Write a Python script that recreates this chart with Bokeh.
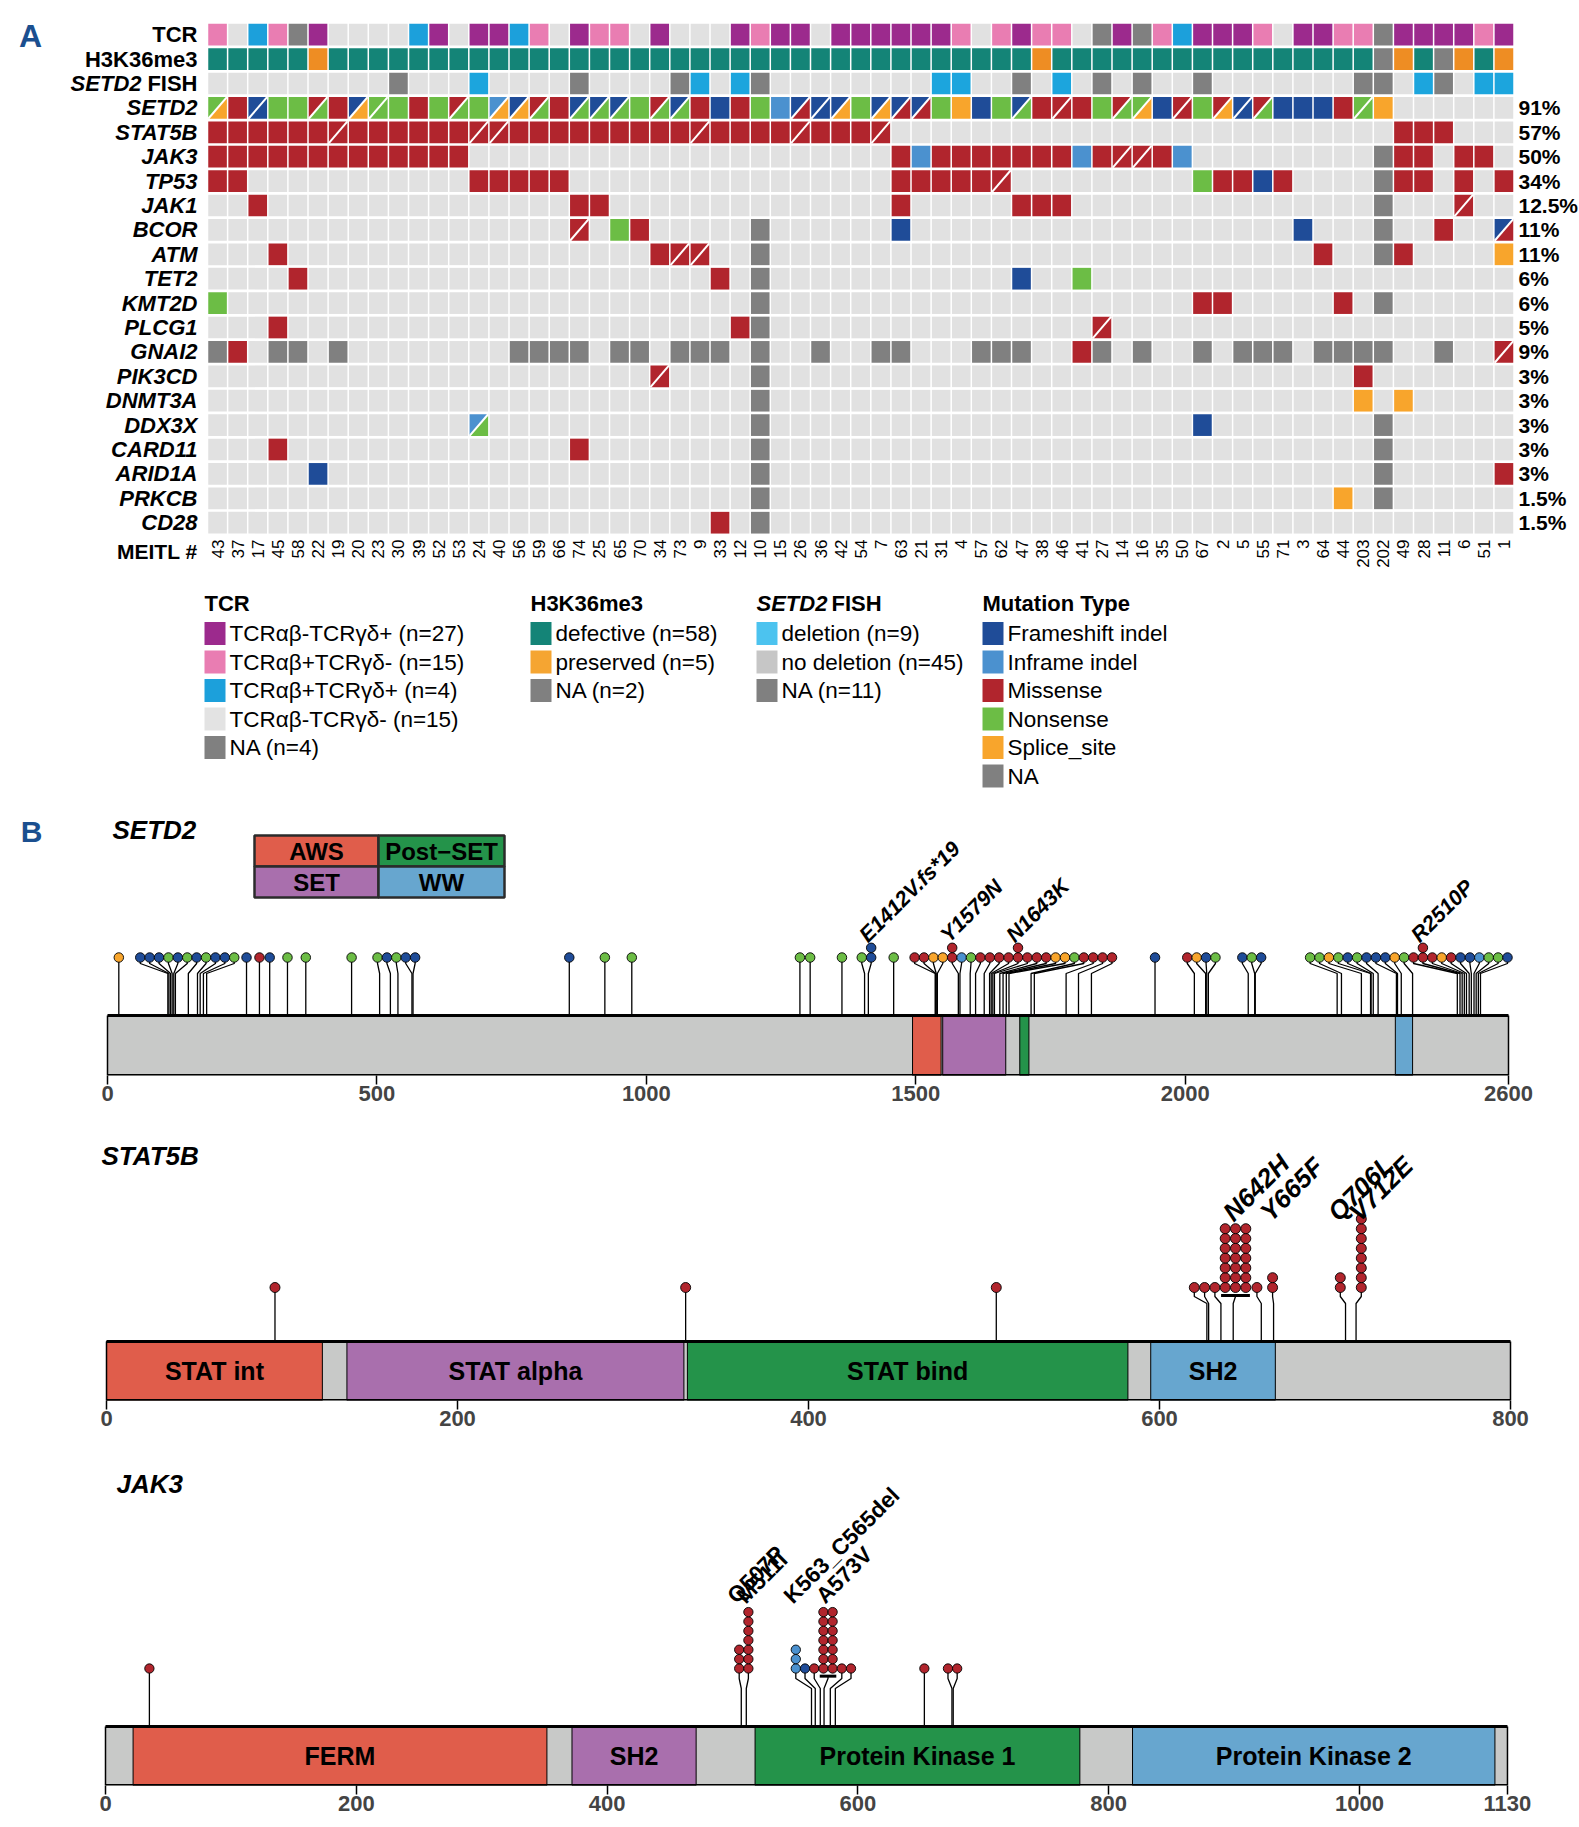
import math
from bokeh.plotting import figure
from bokeh.models import Range1d, FixedTicker
from bokeh.layouts import column
from bokeh.embed import file_html
from bokeh.resources import INLINE
from bokeh.core.properties import value

# ====================== DATA : panel A (oncoprint) ======================
MEITL = [43, 37, 17, 45, 58, 22, 19, 20, 23, 30, 39, 52, 53, 24, 40, 56, 59, 66, 74, 25,
         65, 70, 34, 73, 9, 33, 12, 10, 15, 26, 36, 42, 54, 7, 63, 21, 31, 4, 57, 62,
         47, 38, 46, 41, 27, 14, 16, 35, 50, 67, 2, 5, 55, 71, 3, 64, 44, 203, 202, 49,
         28, 11, 6, 51, 1]

# TCR: P=ab-gd+, K=ab+gd-, B=ab+gd+, L=ab-gd-, X=NA
TCR = ("K L B K X P L L L L B P L P P B K L P K K L P L L L P K P P "
       "L P P P P P P K L K P K K L X P X K B P P P K L P P K K X P P P P K P").split()
# H3K36me3: D=defective, O=preserved, X=NA
H3K36 = ("D D D D D O D D D D D D D D D D D D D D D D D D D D D D D D "
         "D D D D D D D D D D D O D D D D D D D D D D D D D D D D X O D X O D O").split()
# SETD2 FISH: C=deletion, N=no deletion, X=NA
FISH = ("N N N N N N N N N X "
        "N N N C N N N N X N "
        "N N N X C N C X N N "
        "N N N N N N C C N N "
        "X N C N X N X N N X "
        "N N N N N N N X X N "
        "C X N C C").split()

# mutations: F=frameshift, I=inframe, M=missense, N=nonsense, S=splice, X=NA, .=none
GENES = ["SETD2", "STAT5B", "JAK3", "TP53", "JAK1", "BCOR", "ATM", "TET2", "KMT2D",
         "PLCG1", "GNAI2", "PIK3CD", "DNMT3A", "DDX3X", "CARD11", "ARID1A", "PRKCB", "CD28"]
PCT = ["91%", "57%", "50%", "34%", "12.5%", "11%", "11%", "6%", "6%", "5%", "9%",
       "3%", "3%", "3%", "3%", "3%", "1.5%", "1.5%"]
GENE_ROWS = {
    "SETD2": ("NS M FF N N MN M FS NN N "
              "M N MN N IS FS MN M FN FN "
              "FN N MN FN M F M N I FM "
              "FF FS N FS FM FM N S F N "
              "FN M MM M N MN NS F MM N "
              "MS FF MN F F F M NN S . "
              ". . . . ."),
    "STAT5B": ("M M M M M M MM M M M "
               "M M M MM MM M M M M M "
               "M M M M MM M M M M MM "
               "M M M MM . . . . . . "
               ". . . . . . . . . . "
               ". . . . . . . . . M "
               "M M . . ."),
    "JAK3": ("M M M M M M M M M M "
             "M M M . . . . . . . "
             ". . . . . . . . . . "
             ". . . . M I M M M M "
             "M M M I M MM MM M I . "
             ". . . . . . . . X M "
             "M . M M ."),
    "TP53": ("M M . . . . . . . . "
             ". . . M M M M M . . "
             ". . . . . . . . . . "
             ". . . . M M M M M MM "
             ". . . . . . . . . N "
             "M M F M . . . . X M "
             "M . M . M"),
    "JAK1": (". . M . . . . . . . "
             ". . . . . . . . M M "
             ". . . . . . . . . . "
             ". . . . M . . . . . "
             "M M M . . . . . . . "
             ". . . . . . . . X . "
             ". . MM . ."),
    "BCOR": (". . . . . . . . . . "
             ". . . . . . . . MM . "
             "N M . . . . . X . . "
             ". . . . F . . . . . "
             ". . . . . . . . . . "
             ". . . . F . . . X . "
             ". M . . FM"),
    "ATM": (". . . M . . . . . . "
            ". . . . . . . . . . "
            ". . M MM MM . . X . . "
            ". . . . . . . . . . "
            ". . . . . . . . . . "
            ". . . . . M . . X M "
            ". . . . S"),
    "TET2": (". . . . M . . . . . "
             ". . . . . . . . . . "
             ". . . . . M . X . . "
             ". . . . . . . . . . "
             "F . . N . . . . . . "
             ". . . . . . . . . . "
             ". . . . ."),
    "KMT2D": ("N . . . . . . . . . "
              ". . . . . . . . . . "
              ". . . . . . . X . . "
              ". . . . . . . . . . "
              ". . . . . . . . . M "
              "M . . . . . M . X . "
              ". . . . ."),
    "PLCG1": (". . . M . . . . . . "
              ". . . . . . . . . . "
              ". . . . . . M X . . "
              ". . . . . . . . . . "
              ". . . . MM . . . . . "
              ". . . . . . . . . . "
              ". . . . ."),
    "GNAI2": ("X M . X X . X . . . "
              ". . . . . X X X X . "
              "X X . X X X . X . . "
              "X . . X X . . . X X "
              "X . . M X . X . . X "
              ". X X X . X X X X . "
              ". X . . MM"),
    "PIK3CD": (". . . . . . . . . . "
               ". . . . . . . . . . "
               ". . MM . . . . X . . "
               ". . . . . . . . . . "
               ". . . . . . . . . . "
               ". . . . . . . M . . "
               ". . . . ."),
    "DNMT3A": (". . . . . . . . . . "
               ". . . . . . . . . . "
               ". . . . . . . X . . "
               ". . . . . . . . . . "
               ". . . . . . . . . . "
               ". . . . . . . S . S "
               ". . . . ."),
    "DDX3X": (". . . . . . . . . . "
              ". . . IN . . . . . . "
              ". . . . . . . X . . "
              ". . . . . . . . . . "
              ". . . . . . . . . F "
              ". . . . . . . . X . "
              ". . . . ."),
    "CARD11": (". . . M . . . . . . "
               ". . . . . . . . M . "
               ". . . . . . . X . . "
               ". . . . . . . . . . "
               ". . . . . . . . . . "
               ". . . . . . . . X . "
               ". . . . ."),
    "ARID1A": (". . . . . F . . . . "
               ". . . . . . . . . . "
               ". . . . . . . X . . "
               ". . . . . . . . . . "
               ". . . . . . . . . . "
               ". . . . . . . . X . "
               ". . . . M"),
    "PRKCB": (". . . . . . . . . . "
              ". . . . . . . . . . "
              ". . . . . . . X . . "
              ". . . . . . . . . . "
              ". . . . . . . . . . "
              ". . . . . . S . X . "
              ". . . . ."),
    "CD28": (". . . . . . . . . . "
             ". . . . . . . . . . "
             ". . . . . M . X . . "
             ". . . . . . . . . . "
             ". . . . . . . . . . "
             ". . . . . . . . . . "
             ". . . . ."),
}

LEG_TCR = ["TCRαβ-TCRγδ+ (n=27)", "TCRαβ+TCRγδ- (n=15)", "TCRαβ+TCRγδ+ (n=4)",
           "TCRαβ-TCRγδ- (n=15)", "NA (n=4)"]
LEG_H3 = ["defective (n=58)", "preserved (n=5)", "NA (n=2)"]
LEG_FISH = ["deletion (n=9)", "no deletion (n=45)", "NA (n=11)"]
LEG_MUT = ["Frameshift indel", "Inframe indel", "Missense", "Nonsense", "Splice_site", "NA"]

# ====================== DATA : panel B (lollipops) ======================
SETD2_LEN = 2600
SETD2_TICKS = [0, 500, 1000, 1500, 2000, 2600]
SETD2_TICK_LABELS = ["0", "500", "1000", "1500", "2000", "2600"]
SETD2_DOM = ["AWS", "SET", "Post−SET", "WW"]
SETD2_DOM_START = [1494, 1550, 1693, 2390]
SETD2_DOM_END = [1547, 1667, 1710, 2422]
SETD2_POS = [21, 112, 114, 117, 120, 123, 126, 150, 167, 172, 178, 184, 258, 282, 301, 334, 368,
             453, 505, 525, 539, 565, 567, 857, 923, 973, 1285, 1304, 1363, 1405, 1412, 1459,
             1536, 1537, 1538, 1540, 1579, 1582, 1601, 1611, 1627, 1637, 1640, 1643, 1646, 1656,
             1662, 1668, 1673, 1714, 1720, 1779, 1802, 1826, 1944, 2017, 2038, 2040, 2043,
             2117, 2129, 2130, 2282, 2290, 2327, 2344, 2345, 2349, 2358, 2392, 2394, 2401, 2422,
             2505, 2510, 2514, 2518, 2522, 2527, 2531, 2536, 2540, 2544, 2548]
SETD2_TYPE = list("SFFFNFNFNFFNFMFNN" "NNFNFFFNN" "NNNNFN"
                  "MMSSMINMMMMMMMMSSNMMMM" "F" "MSFN" "FNF" "NN" "SNFNFFFSN"
                  "MMMSMFFINNF")
SETD2_COUNT = {1412: 2, 1579: 2, 1643: 2, 2510: 2}
SETD2_HOT = {1412: "E1412V.fs*19", 1579: "Y1579N", 1643: "N1643K", 2510: "R2510P"}

STAT5B_LEN = 800
STAT5B_TICKS = [0, 200, 400, 600, 800]
STAT5B_TICK_LABELS = ["0", "200", "400", "600", "800"]
STAT5B_DOM = ["STAT int", "STAT alpha", "STAT bind", "SH2"]
STAT5B_DOM_START = [0, 137, 331, 595]
STAT5B_DOM_END = [123, 329, 582, 666]
STAT5B_POS = [96, 330, 507, 627, 628, 635, 642, 658, 665, 706, 712]
STAT5B_TYPE = list("MMMMMMMMMMM")
STAT5B_COUNT = {642: 21, 665: 2, 706: 2, 712: 8}
STAT5B_HOT = {642: "N642H", 665: "Y665F", 706: "Q706L", 712: "V712E"}

JAK3_LEN = 1118          # drawn end of the protein bar (end tick is labelled 1130)
JAK3_TICKS = [0, 200, 400, 600, 800, 1000, 1118]
JAK3_TICK_LABELS = ["0", "200", "400", "600", "800", "1000", "1130"]
JAK3_DOM = ["FERM", "SH2", "Protein Kinase 1", "Protein Kinase 2"]
JAK3_DOM_START = [22, 372, 518, 819]
JAK3_DOM_END = [352, 471, 777, 1108]
JAK3_POS = [35, 507, 511, 563, 566, 570, 573, 578, 582, 653, 675, 676]
JAK3_TYPE = list("MMMIFMMMMMMM")
JAK3_COUNT = {507: 3, 511: 7, 563: 3, 573: 14}
JAK3_HOT = {507: "Q507P", 511: "M511I", 563: "K563_C565del", 573: "A573V"}

# ====================== STYLE ======================
FONT = "Liberation Sans"
BG = "#e1e1e1"
NA = "#808080"
TCR_COL = {"P": "#9c2a8d", "K": "#e97db2", "B": "#1ca0db", "L": BG, "X": NA}
H3_COL = {"D": "#148477", "O": "#ee8d23", "X": NA}
FISH_COL = {"C": "#1ca5dd", "N": BG, "X": NA}
MUT_COL = {"F": "#1f4c98", "I": "#4b91cf", "M": "#b1252d", "N": "#6cbd45", "S": "#f8a52c", "X": NA}
LEG_TCR_COL = ["#9c2a8d", "#e97db2", "#1ca0db", "#e3e3e3", NA]
LEG_H3_COL = ["#148477", "#f5a532", NA]
LEG_FISH_COL = ["#4cc3ef", "#c6c6c6", NA]
LEG_MUT_COL = [MUT_COL[k] for k in "FIMNSX"]
DOM_COL = ["#e05d4b", "#a96fad", "#24934a", "#67a6cf"]
BAR_COL = "#c8c9c8"
PANEL_COL = "#1b4f8f"

W = 1579


def txt(p, x, y, s, size, style="normal", align="left", baseline="middle",
        color="black", angle=0.0, xo=0, yo=0):
    if not isinstance(x, list):
        x, y, s = [x], [y], [s]
    p.text(x=x, y=y, text=s, text_font=value(FONT), text_font_size=f"{size}px",
           text_font_style=style, text_align=align, text_baseline=baseline,
           text_color=color, angle=angle, x_offset=xo, y_offset=yo)


# ====================== PANEL A ======================
PX, PY = 20.1, 24.4          # pixels per column / per row
HA = 805
X0 = -0.5 - 207 / PX
Y0 = -0.5 - 22 / PY


def fx(px):
    return X0 + px / PX


def fy(py):
    return Y0 + py / PY


pA = figure(width=W, height=HA, x_range=Range1d(X0, X0 + W / PX),
            y_range=Range1d(Y0 + HA / PY, Y0), output_backend="svg",
            toolbar_location=None, min_border=0, x_axis_location=None, y_axis_location=None)
pA.grid.visible = False
pA.outline_line_color = None

rows = [("tcr", TCR), ("h3", H3K36), ("fish", FISH)]
for g in GENES:
    toks = GENE_ROWS[g].split()
    if len(toks) != 65:
        raise ValueError(f"{g} has {len(toks)} cells")
    rows.append(("gene", toks))

cw, ch = 18.6 / PX, 21.7 / PY
cx, cy, cc = [], [], []
txs, tys, tcs = [], [], []
d0x, d0y, d1x, d1y = [], [], [], []
for r, (kind, toks) in enumerate(rows):
    for i, t in enumerate(toks):
        if kind == "tcr":
            col = TCR_COL[t]
        elif kind == "h3":
            col = H3_COL[t]
        elif kind == "fish":
            col = FISH_COL[t]
        else:
            if t == ".":
                col = BG
            elif len(t) == 2:
                L, R, T, B = i - cw / 2, i + cw / 2, r - ch / 2, r + ch / 2
                txs += [[L, R, L], [R, R, L]]
                tys += [[T, T, B], [T, B, B]]
                tcs += [MUT_COL[t[0]], MUT_COL[t[1]]]
                d0x.append(L); d0y.append(B); d1x.append(R); d1y.append(T)
                continue
            else:
                col = MUT_COL[t]
        cx.append(i); cy.append(r); cc.append(col)

pA.rect(x=cx, y=cy, width=cw, height=ch, fill_color=cc, line_color=None)
pA.patches(xs=txs, ys=tys, fill_color=tcs, line_color=None)
pA.segment(x0=d0x, y0=d0y, x1=d1x, y1=d1y, line_color="white", line_width=2)

# row labels
lx = fx(197)
txt(pA, [lx, lx], [0, 1], ["TCR", "H3K36me3"], 22, "bold", "right")
txt(pA, lx, 2, "FISH", 22, "bold", "right")
txt(pA, fx(141), 2, "SETD2", 22, "bold italic", "right")
txt(pA, [lx] * len(GENES), [3 + k for k in range(len(GENES))], GENES, 22, "bold italic", "right")
txt(pA, [fx(1518)] * len(PCT), [3 + k for k in range(len(PCT))], PCT, 21, "bold", "left")
txt(pA, list(range(65)), [fy(539)] * 65, [str(m) for m in MEITL], 17, "normal", "right",
    angle=math.pi / 2)
txt(pA, lx, fy(551), "MEITL #", 21, "bold", "right")
txt(pA, fx(30), fy(35), "A", 32, "bold", "center", color=PANEL_COL)

# legend
LEG_Y0, LEG_DY = 633, 28.5
groups = [(204, LEG_TCR, LEG_TCR_COL), (530, LEG_H3, LEG_H3_COL),
          (756, LEG_FISH, LEG_FISH_COL), (982, LEG_MUT, LEG_MUT_COL)]
sx, sy, sc, tx, ty, tt = [], [], [], [], [], []
for gx, labels, cols in groups:
    for k, (lab, col) in enumerate(zip(labels, cols)):
        yy = fy(LEG_Y0 + k * LEG_DY)
        sx.append(fx(gx + 10.5)); sy.append(yy); sc.append(col)
        tx.append(fx(gx + 25)); ty.append(yy); tt.append(lab)
pA.rect(x=sx, y=sy, width=21 / PX, height=23 / PY, fill_color=sc, line_color=None)
txt(pA, tx, ty, tt, 22.5, "normal", "left")
txt(pA, [fx(204), fx(530), fx(982)], [fy(603)] * 3, ["TCR", "H3K36me3", "Mutation Type"],
    22, "bold", "left")
txt(pA, fx(756), fy(603), "SETD2", 22, "bold italic", "left")
txt(pA, fx(831), fy(603), "FISH", 22, "bold", "left")


# ====================== PANEL B ======================
def repel(pos, widths):
    """right-to-left merging of overlapping heads; clusters centred on the
    midpoint of their first and last mutation position"""
    def span(cl):
        w = sum(widths[i] for i in cl)
        c = (pos[cl[0]] + pos[cl[-1]]) / 2.0
        return c - w / 2, c + w / 2

    clusters = []
    for i in reversed(range(len(pos))):
        clusters.insert(0, [i])
        while len(clusters) > 1 and span(clusters[0])[1] > span(clusters[1])[0] + 1e-9:
            clusters[0] = clusters[0] + clusters.pop(1)
    disp = [0.0] * len(pos)
    for cl in clusters:
        left = span(cl)[0]
        for i in cl:
            disp[i] = left + widths[i] / 2
            left += widths[i]
    return disp


def protein_panel(h, frame_h, xl, ppa, length, ticks, tick_labels, dnames, dstart, dend,
                  pos, types, counts, hot, st, gene, gene_px, gene_y):
    p = figure(width=W, height=h, x_range=Range1d(-xl / ppa, (W - xl) / ppa),
               y_range=Range1d(0, frame_h), output_backend="svg", toolbar_location=None,
               min_border_left=0, min_border_right=0, min_border_top=0,
               min_border_bottom=h - frame_h, y_axis_location=None)
    p.grid.visible = False
    p.outline_line_color = None
    ax = p.xaxis[0]
    ax.ticker = FixedTicker(ticks=ticks)
    ax.major_label_overrides = {t: s for t, s in zip(ticks, tick_labels)}
    ax.axis_line_color = None
    ax.major_tick_out = 9
    ax.major_tick_in = 0
    ax.major_tick_line_width = 1.5
    ax.minor_tick_line_color = None
    ax.major_label_text_font = FONT
    ax.major_label_text_font_size = "22px"
    ax.major_label_text_font_style = "bold"
    ax.major_label_standoff = 1

    bh = st["bar_h"]
    p.quad(left=[0], right=[length], bottom=[0], top=[bh], fill_color=BAR_COL, line_color=None)
    p.quad(left=dstart, right=dend, bottom=[0] * len(dstart), top=[bh] * len(dstart),
           fill_color=DOM_COL[:len(dstart)], line_color="black", line_width=1)
    p.segment(x0=[0, 0], y0=[0, bh], x1=[length, length], y1=[0, bh], line_color="black",
              line_width=3)
    p.segment(x0=[0, length], y0=[0, 0], x1=[0, length], y1=[bh, bh], line_color="black",
              line_width=1.5)
    if st.get("dom_labels"):
        txt(p, [(a + b) / 2 for a, b in zip(dstart, dend)], [bh / 2] * len(dstart), dnames,
            25, "bold", "center")

    # lollipops
    cnt = [counts.get(x, 1) for x in pos]
    pitch = st["pitch_px"] / ppa
    lab_w = st["label_px"] / ppa
    ncols = [math.ceil(c / st["maxcol"]) for c in cnt]
    widths = [max(n * pitch, lab_w) if pos[i] in hot else n * pitch for i, n in enumerate(ncols)]
    disp = repel(pos, widths)
    r = st["head_px"] / 2
    xs_l, ys_l, hx, hy, hc = [], [], [], [], []
    ux0, ux1, uy, tops = [], [], [], []
    for i in range(len(pos)):
        nc = ncols[i]
        nr = math.ceil(cnt[i] / nc)
        end_y = st["head0"] - r - 3 if nc > 1 else st["head0"]
        xs_l.append([pos[i], pos[i], disp[i], disp[i]])
        ys_l.append([bh, st["bend1"], st["bend2"], end_y])
        k = 0
        for c in range(nc):
            hxx = disp[i] + (c - (nc - 1) / 2) * pitch
            for rr in range(nr):
                if k >= cnt[i]:
                    break
                hx.append(hxx); hy.append(st["head0"] + rr * st["row_px"])
                hc.append(MUT_COL[types[i]])
                k += 1
        if nc > 1:
            half = (nc - 1) / 2 * pitch + pitch * 0.4
            ux0.append(disp[i] - half); ux1.append(disp[i] + half); uy.append(end_y)
        tops.append(st["head0"] + (nr - 1) * st["row_px"])
    p.multi_line(xs=xs_l, ys=ys_l, line_color="black", line_width=1.3)
    if ux0:
        p.segment(x0=ux0, y0=uy, x1=ux1, y1=uy, line_color="black", line_width=3)
    p.scatter(x=hx, y=hy, size=st["head_px"], marker="circle", fill_color=hc,
              line_color="black", line_width=0.9)
    label_y = max(tops) + r + st["label_gap"]
    lxs, lys, lts = [], [], []
    for i, x in enumerate(pos):
        if x in hot:
            lxs.append(disp[i])
            lys.append(label_y)
            lts.append(hot[x])
    txt(p, lxs, lys, lts, st["label_size"], st["label_style"], "left", "alphabetic",
        angle=math.radians(45), xo=-8)
    txt(p, (gene_px - xl) / ppa, gene_y, gene, 26, "bold italic", "left")
    return p


stB1 = dict(bar_h=60, head0=118, bend1=102, bend2=112, head_px=9.5, row_px=9.7,
            pitch_px=9.4, label_px=9.4, maxcol=8, dom_labels=False,
            label_gap=4.5, label_size=21.5, label_style="bold italic")
PPA1 = 1401 / SETD2_LEN
pB1 = protein_panel(308, 270, 107, PPA1, SETD2_LEN, SETD2_TICKS, SETD2_TICK_LABELS, SETD2_DOM,
                    SETD2_DOM_START, SETD2_DOM_END, SETD2_POS, SETD2_TYPE,
                    SETD2_COUNT, SETD2_HOT, stB1, "SETD2", 112, 1075 - 829)
txt(pB1, (31 - 107) / PPA1, 1075 - 831, "B", 30, "bold", "center", color=PANEL_COL)
# domain key box
kx0, kxm, kx1 = [(v - 107) / PPA1 for v in (254, 378, 504)]
ky0, kym, ky1 = 1075 - 897, 1075 - 866, 1075 - 835
pB1.quad(left=[kx0, kxm, kx0, kxm], right=[kxm, kx1, kxm, kx1],
         bottom=[kym, kym, ky0, ky0], top=[ky1, ky1, kym, kym],
         fill_color=[DOM_COL[0], DOM_COL[2], DOM_COL[1], DOM_COL[3]],
         line_color="#2b2b2b", line_width=2.5)
txt(pB1, [(kx0 + kxm) / 2, (kxm + kx1) / 2, (kx0 + kxm) / 2, (kxm + kx1) / 2],
    [(kym + ky1) / 2, (kym + ky1) / 2, (ky0 + kym) / 2, (ky0 + kym) / 2],
    [SETD2_DOM[0], SETD2_DOM[2], SETD2_DOM[1], SETD2_DOM[3]], 24, "bold", "center")

stB2 = dict(bar_h=59, head0=113, bend1=97, bend2=104, head_px=10, row_px=9.8,
            pitch_px=10.3, label_px=21, maxcol=8, dom_labels=True,
            label_gap=-2.5, label_size=26, label_style="bold italic")
pB2 = protein_panel(325, 287, 106, 1404 / STAT5B_LEN, STAT5B_LEN, STAT5B_TICKS,
                    STAT5B_TICK_LABELS, STAT5B_DOM, STAT5B_DOM_START, STAT5B_DOM_END,
                    STAT5B_POS, STAT5B_TYPE, STAT5B_COUNT, STAT5B_HOT, stB2, "STAT5B", 101,
                    1400 - 1155)

stB3 = dict(bar_h=59, head0=117, bend1=97, bend2=107, head_px=9.3, row_px=9.4,
            pitch_px=9.2, label_px=9.2, maxcol=8, dom_labels=True,
            label_gap=8, label_size=22.5, label_style="bold")
pB3 = protein_panel(385, 347, 105, 1.254, JAK3_LEN, JAK3_TICKS, JAK3_TICK_LABELS, JAK3_DOM,
                    JAK3_DOM_START, JAK3_DOM_END, JAK3_POS, JAK3_TYPE,
                    JAK3_COUNT, JAK3_HOT, stB3, "JAK3", 116, 1785 - 1483)

page = column(pA, pB1, pB2, pB3, spacing=0)
open("out.html", "w").write(file_html(page, INLINE))
